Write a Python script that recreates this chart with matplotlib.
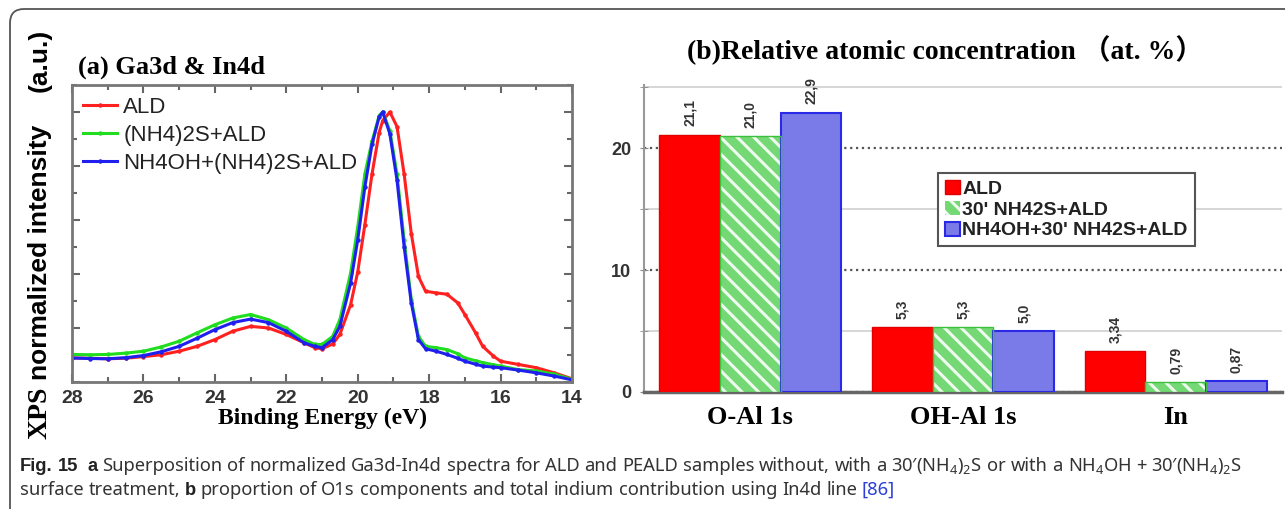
import matplotlib
matplotlib.use("Agg")
import matplotlib.pyplot as plt
import matplotlib.transforms as mtransforms
from matplotlib.patches import FancyBboxPatch
from matplotlib.ticker import MultipleLocator

plt.rcParams['mathtext.fontset'] = 'custom'
plt.rcParams['mathtext.rm'] = 'Noto Sans'
plt.rcParams['hatch.linewidth'] = 2.2

SANS = ['Liberation Sans', 'DejaVu Sans']
CAPFONT = ['Noto Sans', 'DejaVu Sans']
SERIF = ['Liberation Serif', 'Noto Sans CJK SC', 'DejaVu Serif']

# ---- panel (a): Ga3d & In4d spectra ----
energy = [28, 27.5, 27, 26.5, 26, 25.5, 25, 24.5, 24, 23.5, 23, 22.5, 22, 21.5,
          21.2, 21, 20.7, 20.5, 20.2, 20, 19.8, 19.6, 19.4, 19.3, 19.1, 18.9,
          18.7, 18.5, 18.3, 18.1, 17.8, 17.5, 17.2, 17, 16.7, 16.5, 16.2, 16,
          15.5, 15, 14.5, 14]
ald = [0.089, 0.088, 0.086, 0.088, 0.094, 0.101, 0.114, 0.132, 0.157, 0.188,
       0.206, 0.200, 0.176, 0.145, 0.127, 0.123, 0.141, 0.176, 0.286, 0.407,
       0.583, 0.770, 0.924, 0.968, 1.000, 0.946, 0.770, 0.550, 0.391, 0.336,
       0.330, 0.325, 0.293, 0.250, 0.182, 0.132, 0.096, 0.077, 0.065, 0.053,
       0.034, 0.012]
nh4s_ald = [0.102, 0.101, 0.102, 0.107, 0.114, 0.130, 0.151, 0.182, 0.212, 0.237,
            0.250, 0.231, 0.200, 0.157, 0.139, 0.139, 0.169, 0.231, 0.403, 0.574,
            0.770, 0.891, 0.987, 1.000, 0.931, 0.770, 0.526, 0.305, 0.169, 0.132,
            0.127, 0.120, 0.105, 0.089, 0.079, 0.072, 0.064, 0.059, 0.046, 0.041,
            0.029, 0.010]
nh4oh_ald = [0.089, 0.087, 0.086, 0.090, 0.098, 0.112, 0.132, 0.162, 0.194, 0.220,
             0.233, 0.220, 0.188, 0.145, 0.132, 0.127, 0.157, 0.206, 0.366, 0.526,
             0.722, 0.880, 0.982, 1.000, 0.919, 0.748, 0.501, 0.293, 0.157, 0.123,
             0.114, 0.102, 0.088, 0.077, 0.066, 0.059, 0.055, 0.053, 0.044, 0.034,
             0.022, 0.008]
spec_labels = ['ALD', '(NH4)2S+ALD', 'NH4OH+(NH4)2S+ALD']
spec_colors = ['#ff2020', '#20dd20', '#2020ee']

# ---- panel (b): relative atomic concentration ----
groups = ['O-Al 1s', 'OH-Al 1s', 'In']
conc_ald = [21.1, 5.3, 3.34]
conc_nh4s = [21.0, 5.3, 0.79]
conc_nh4oh = [22.9, 5.0, 0.87]
txt_ald = ['21,1', '5,3', '3,34']
txt_nh4s = ['21,0', '5,3', '0,79']
txt_nh4oh = ['22,9', '5,0', '0,87']
bar_labels = ['ALD', "30' NH42S+ALD", "NH4OH+30' NH42S+ALD"]

W, H = 1285, 509
fig = plt.figure(figsize=(W / 100, H / 100), dpi=100)

# rounded frame around the figure
frame = FancyBboxPatch((10, -40), 1320, 540, boxstyle='round,pad=0,rounding_size=14',
                       transform=mtransforms.IdentityTransform(), fill=False,
                       edgecolor='#555555', lw=1.3)
fig.add_artist(frame)

# ======== (a) ========
axa = fig.add_axes([72 / W, 1 - 382 / H, 500 / W, 297 / H])
for y, lab, c in zip([ald, nh4s_ald, nh4oh_ald], spec_labels, spec_colors):
    axa.plot(energy, y, color=c, lw=2.2, marker='o', ms=3.2, mew=0, label=lab)
axa.set_xlim(28, 14)
axa.set_ylim(0, 1.1)
axa.xaxis.set_major_locator(MultipleLocator(2))
axa.xaxis.set_minor_locator(MultipleLocator(1))
axa.yaxis.set_major_locator(MultipleLocator(0.2))
axa.yaxis.set_minor_locator(MultipleLocator(0.1))
axa.tick_params(which='both', direction='in', top=True, right=True, color='#666666', width=1.5)
axa.tick_params(which='major', length=6)
axa.tick_params(which='minor', length=3.5)
axa.tick_params(axis='y', which='both', labelleft=False)
axa.tick_params(axis='x', labelsize=14, pad=6, labelcolor='#333333')
for t in axa.get_xticklabels():
    t.set_family(SANS)
    t.set_weight('bold')
for s in axa.spines.values():
    s.set_color('#777777')
    s.set_linewidth(2)
axa.set_xlabel('Binding Energy (eV)', family=SERIF, weight='bold', fontsize=17, labelpad=0)
leg = axa.legend(loc='upper left', frameon=False, prop={'family': SANS, 'size': 16},
                 handlelength=1.5, handletextpad=0.3, labelspacing=0.32,
                 borderaxespad=0.0, bbox_to_anchor=(0.005, 0.99))
for t in leg.get_texts():
    t.set_color('#222222')
fig.text(78 / W, 1 - 67 / H, '(a) Ga3d & In4d', family=SERIF, weight='bold',
         fontsize=19, va='center', ha='left')

# y label pieces
fig.text(40 / W, 1 - 413 / H, 'XPS', family=SERIF, weight='bold', fontsize=20,
         rotation=90, ha='center', va='center')
fig.text(40 / W, 1 - 252 / H, 'normalized intensity', family=SANS, weight='bold',
         fontsize=19, rotation=90, ha='center', va='center')
fig.text(40 / W, 1 - 60 / H, '(a.u.)', family=SANS, weight='bold', fontsize=19,
         rotation=90, ha='center', va='center')

# ======== (b) ========
axb = fig.add_axes([644 / W, 1 - 392 / H, 638 / W, 307 / H])
xs = list(range(len(groups)))
bw = 0.285
x_ald = [x - bw for x in xs]
x_nh4oh = [x + bw for x in xs]
axb.bar(x_ald, conc_ald, bw, color='#ff0000', edgecolor='#e00000', lw=1, label=bar_labels[0], zorder=3)
axb.bar(xs, conc_nh4s, bw, color='#74d874', edgecolor='#eefaee', lw=0, hatch='\\\\',
        label=bar_labels[1], zorder=3)
axb.bar(xs, conc_nh4s, bw, fill=False, edgecolor='#3cbf3c', lw=1, zorder=4)
axb.bar(x_nh4oh, conc_nh4oh, bw, color='#7a7ae8', edgecolor='#2a2ae6', lw=1.5,
        label=bar_labels[2], zorder=3)

for xx, vv, tt in [(x_ald, conc_ald, txt_ald), (xs, conc_nh4s, txt_nh4s),
                   (x_nh4oh, conc_nh4oh, txt_nh4oh)]:
    for x, v, t in zip(xx, vv, tt):
        axb.text(x, v + 0.7, t, rotation=90, ha='center', va='bottom', fontsize=10,
                 family=SANS, weight='bold', color='#333333')

axb.set_xlim(-0.5, 2.5)
axb.set_ylim(0, 25.2)
axb.yaxis.set_major_locator(MultipleLocator(10))
axb.yaxis.set_minor_locator(MultipleLocator(5))
axb.grid(axis='y', which='major', color='#555555', ls=':', lw=1.6, zorder=1)
axb.grid(axis='y', which='minor', color='#d0d0d0', ls='-', lw=1.2, zorder=1)
axb.set_xticks(xs)
axb.set_xticklabels(groups, family=SERIF, weight='bold', fontsize=19)
axb.tick_params(axis='x', length=0, pad=10)
axb.tick_params(axis='y', which='both', direction='inout', length=6, color='#888888',
                labelsize=13, pad=6, labelcolor='#333333')
for t in axb.get_yticklabels():
    t.set_family(SANS)
    t.set_weight('bold')
axb.spines['top'].set_visible(False)
axb.spines['right'].set_visible(False)
axb.spines['left'].set_color('#999999')
axb.spines['left'].set_linewidth(1.5)
axb.spines['bottom'].set_color('#666666')
axb.spines['bottom'].set_linewidth(2.5)
lgb = axb.legend(loc='upper left', bbox_to_anchor=(0.461, 0.713), borderaxespad=0,
                 prop={'family': SANS, 'weight': 'bold', 'size': 14}, handlelength=0.75,
                 handleheight=0.75, handletextpad=0.15, labelspacing=0.15, fancybox=False,
                 edgecolor='#555555', framealpha=1, borderpad=0.35)
lgb.get_frame().set_linewidth(1.5)
for t in lgb.get_texts():
    t.set_color('#222222')

fig.text(945 / W, 1 - 50 / H, '(b)Relative atomic concentration \uff08at. %\uff09',
         family=SERIF, weight='bold', fontsize=20, ha='center', va='center')

# ======== caption (word by word) ========
renderer = fig.canvas.get_renderer()
B = {'weight': 'bold', 'family': SANS, 'color': '#222222'}
LINK = {'color': '#2b3fd6'}
line1 = ([('Fig.', B), ('15', B), ('a', B)] +
         [(w, {}) for w in 'Superposition of normalized Ga3d-In4d spectra for ALD and PEALD '
                           'samples without, with a'.split()] +
         [('30\u2032(NH$_4$)$_2$S', {}), ('or', {}), ('with', {}), ('a', {}),
          ('NH$_4$OH', {}), ('+', {}), ('30\u2032(NH$_4$)$_2$S', {})])
line2 = ([('surface', {}), ('treatment,', {}), ('b', B)] +
         [(w, {}) for w in 'proportion of O1s components and total indium contribution '
                           'using In4d line'.split()] +
         [('[86]', LINK)])


def put_words(x, y, words, size):
    space = 0.26 * size * 100 / 72
    arts = []
    for s, kw in words:
        style = {'family': CAPFONT, 'fontsize': size, 'color': '#333333'}
        style.update(kw)
        t = fig.text(x, y, s, transform=mtransforms.IdentityTransform(),
                     va='baseline', **style)
        arts.append(t)
        x += t.get_window_extent(renderer).width + space
        if s == '15':
            x += space
    return arts, x - space


# size the caption so the second line ends where it does in the figure
probe, end = put_words(20, H - 495, line2, 12)
for t in probe:
    t.remove()
cap_size = 12 * (893 - 20) / (end - 20)
put_words(20, H - 471, line1, cap_size)
put_words(20, H - 495, line2, cap_size)

fig.savefig('out.png', dpi=100)
